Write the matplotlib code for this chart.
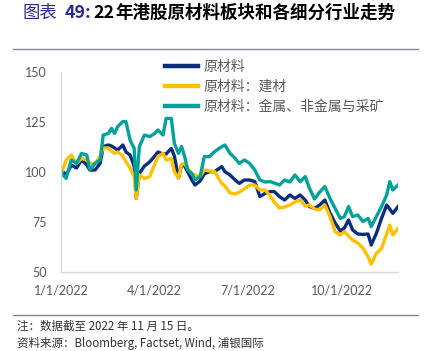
import matplotlib
matplotlib.use("Agg")
import matplotlib.pyplot as plt
import pandas as pd

# ---------------- data ----------------
dates = ["2022-01-01", "2022-01-02", "2022-01-06", "2022-01-11", "2022-01-16", "2022-01-21",
         "2022-01-26", "2022-01-29", "2022-02-03", "2022-02-08", "2022-02-11", "2022-02-16",
         "2022-02-19", "2022-02-22", "2022-02-25", "2022-03-02", "2022-03-05", "2022-03-09",
         "2022-03-13", "2022-03-15", "2022-03-18", "2022-03-23", "2022-03-28", "2022-04-02",
         "2022-04-05", "2022-04-10", "2022-04-13", "2022-04-18", "2022-04-21", "2022-04-25",
         "2022-04-28", "2022-05-01", "2022-05-04", "2022-05-08", "2022-05-11", "2022-05-16",
         "2022-05-20", "2022-05-25", "2022-05-30", "2022-06-06", "2022-06-09", "2022-06-14",
         "2022-06-19", "2022-06-23", "2022-06-28", "2022-07-03", "2022-07-08", "2022-07-13",
         "2022-07-18", "2022-07-23", "2022-07-27", "2022-08-01", "2022-08-06", "2022-08-11",
         "2022-08-16", "2022-08-21", "2022-08-26", "2022-08-30", "2022-09-04", "2022-09-09",
         "2022-09-14", "2022-09-19", "2022-09-24", "2022-09-29", "2022-10-03", "2022-10-07",
         "2022-10-11", "2022-10-16", "2022-10-21", "2022-10-26", "2022-10-29", "2022-11-03",
         "2022-11-08", "2022-11-13", "2022-11-16", "2022-11-19", "2022-11-24"]

materials = [100, 100.5, 98.5, 103.5, 102, 106, 103.5, 101, 101, 104.3, 112.7, 113.5,
             113, 112, 111, 113.5, 110, 108.5, 103, 86.8, 99.3, 103, 105, 108,
             110, 109, 109, 111.8, 108, 97, 103.5, 103, 100, 96, 93.5, 95.5,
             99, 100.2, 100.2, 102.7, 100.2, 98.5, 96, 94.3, 96, 96, 95.2, 87.7,
             89.3, 90.2, 90.2, 87.7, 86, 88.5, 86.8, 88.5, 86, 82.7, 81.8, 83.5,
             86, 79.5, 74.5, 70.5, 72, 76, 71, 69, 68.8, 69, 63.5, 69.3,
             76.8, 83.5, 81.5, 79.3, 82.7]

building = [100.5, 100.2, 106, 108.5, 104.3, 106.8, 106, 104.5, 104, 108, 112, 112,
            110.5, 109.3, 110, 108, 105.2, 102, 97.7, 86.8, 98.5, 96.8, 97.7, 104,
            107.7, 109.3, 106, 106.8, 100.2, 96.8, 104, 104, 101.8, 99, 98.5, 97.7,
            101, 100.5, 100.2, 94.3, 93, 89.5, 89, 90, 91.5, 93.5, 93.5, 91,
            91, 88, 85, 82, 82.5, 83.5, 85, 86, 83, 83.5, 81.5, 81,
            83.5, 77.7, 70.2, 68.5, 70.2, 68, 66, 64.5, 62, 57.5, 54, 59.3,
            61.8, 69, 73.5, 68.5, 71.8]

metals = [100.5, 99, 96.8, 106, 104.3, 109.3, 108.5, 101, 104.3, 106, 118.5, 119.3,
          121.8, 119.3, 122.7, 125.2, 125.2, 116, 111.8, 91, 112.7, 118.5, 117.7, 119.3,
          121, 118.5, 126.8, 126.8, 114.3, 109.3, 112.7, 107.7, 101, 99.3, 96, 97.7,
          107.7, 107.7, 110.2, 112.7, 113.5, 109.3, 106.8, 104.3, 106, 104.3, 101, 96,
          95, 95.2, 94.5, 93.5, 96, 95, 98.5, 95.2, 97.7, 92, 86.5, 90,
          92.7, 86.8, 81.8, 76.8, 77.7, 82.7, 77.7, 78.5, 75.2, 76.8, 72.7, 77.7,
          82.7, 88.5, 95.2, 91, 93.5]

series_labels = ["原材料", "原材料：建材", "原材料：金属、非金属与采矿"]
series_colors = ["#0A2D7C", "#FFC000", "#00A19A"]

x_tick_dates = ["2022-01-01", "2022-04-01", "2022-07-01", "2022-10-01"]
x_tick_labels = ["1/1/2022", "4/1/2022", "7/1/2022", "10/1/2022"]
y_ticks = [50, 75, 100, 125, 150]

title_prefix = "图表"
title_num = "49:"
title_year = "22"
title_main = "年港股原材料板块和各细分行业走势"
note_line = "注：数据截至 2022 年 11 月 15 日。"
source_line = "资料来源：Bloomberg, Factset, Wind, 浦银国际"

# ---------------- figure ----------------
plt.rcParams['font.family'] = ['Noto Sans CJK SC', 'DejaVu Sans']
W, H = 430, 351
fig = plt.figure(figsize=(W / 100, H / 100), dpi=100)
ax = fig.add_axes([61 / W, 1 - 272 / H, (398 - 61) / W, 200 / H])

x = pd.to_datetime(dates)
for vals, lab, col in zip([materials, building, metals], series_labels, series_colors):
    ax.plot(x, vals, color=col, lw=2.4, label=lab, solid_joinstyle='round')

ax.set_xlim(x[0], x[-1])
ax.set_ylim(50, 150)
ax.set_yticks(y_ticks)
ax.set_xticks(pd.to_datetime(x_tick_dates))
ax.set_xticklabels(x_tick_labels)
ax.tick_params(axis='both', length=0, colors='#595959', labelsize=9)
ax.tick_params(axis='y', pad=10)
ax.tick_params(axis='x', pad=9)
for lbl in ax.get_xticklabels() + ax.get_yticklabels():
    lbl.set_fontfamily('Lato')
for s in ['top', 'right']:
    ax.spines[s].set_visible(False)
for s in ['left', 'bottom']:
    ax.spines[s].set_color('#D9D9D9')
    ax.spines[s].set_linewidth(1.0)

leg = ax.legend(loc='upper left', bbox_to_anchor=(165 / W, 1 - 60 / H),
                bbox_transform=fig.transFigure, frameon=False, fontsize=10,
                handlelength=2.4, handletextpad=0.35, labelspacing=0.42,
                borderpad=0, borderaxespad=0)
for t in leg.get_texts():
    t.set_color('#595959')
for h in leg.get_lines():
    h.set_linewidth(3.2)

# title
ty = 1 - 13 / H
fig.text(23 / W, ty, title_prefix, fontsize=12.5, color='#2B2B8A', va='center')
fig.text(65 / W, ty, title_num, fontsize=12.8, color='#2B2B8A', fontweight='bold', va='center')
fig.text(93 / W, ty, title_year, fontsize=12.8, color='black', fontweight='bold', va='center')
fig.text(115 / W, ty, title_main, fontsize=12.6, color='black', fontweight='bold', va='center')

# separator lines
fig.add_artist(plt.Line2D([13 / W, 418 / W], [1 - 49 / H, 1 - 49 / H], color='#7F7FBF', lw=1.0))
fig.add_artist(plt.Line2D([13 / W, 418 / W], [1 - 315 / H, 1 - 315 / H], color='#7F7FBF', lw=1.0))

# notes
fig.text(17 / W, 1 - 326 / H, note_line, fontsize=8.3, color='#333333', va='center')
fig.text(17 / W, 1 - 343 / H, source_line, fontsize=8.3, color='#333333', va='center')

fig.savefig("out.png", dpi=100)
